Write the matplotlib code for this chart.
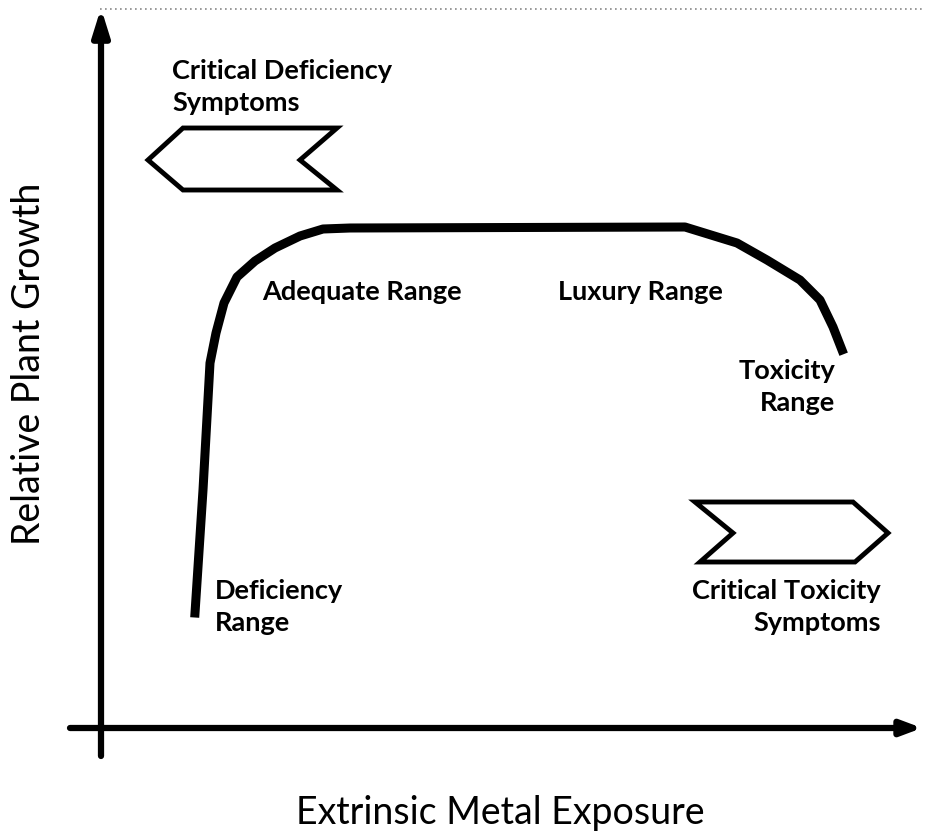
import matplotlib.pyplot as plt
from matplotlib.patches import Polygon

# response curve (exposure, growth) with origin at the axis crossing
exposure = [95, 103, 110, 116, 124, 137, 155, 175, 200, 223, 250, 585, 637, 667, 700, 720, 733, 742]
growth = [115, 238, 365, 395, 425, 451, 467, 480, 492, 499, 500, 501, 485, 468, 448, 428, 401, 378]

# chevron outlines
left_chevron = [(48, 568), (83, 600), (237, 600), (200, 568), (237, 538), (83, 538)]
right_chevron = [(595, 226), (633, 195), (600, 166), (755, 166), (788, 195), (753, 226)]

labels = ["Critical Deficiency\nSymptoms", "Adequate Range", "Luxury Range",
          "Toxicity\nRange", "Deficiency\nRange", "Critical Toxicity\nSymptoms"]
label_x = [72, 162, 458, 735, 115, 781]
label_y = [641, 436, 436, 341, 121, 121]
label_ha = ["left", "left", "left", "right", "left", "right"]

plt.rcParams['font.family'] = ['Lato', 'DejaVu Sans']

fig = plt.figure(figsize=(9.25, 8.39), dpi=100)
ax = fig.add_axes([0, 0, 1, 1])
ax.set_xlim(-100, 825)
ax.set_ylim(-111, 728)
ax.axis('off')

# axes drawn as arrows
ax.annotate('', xy=(1, 720), xytext=(1, -28),
            arrowprops=dict(arrowstyle='-|>,head_length=1.6,head_width=0.5', lw=4.5, color='black',
                            shrinkA=0, shrinkB=0))
ax.annotate('', xy=(822, 0), xytext=(-30, 0),
            arrowprops=dict(arrowstyle='-|>,head_length=1.2,head_width=0.45', lw=4.5, color='black',
                            shrinkA=0, shrinkB=0))

# faint scan artefact line on top
ax.plot([0, 825], [719, 719], color='#888888', lw=1.2, ls=(0, (1, 2)))

ax.plot(exposure, growth, color='black', lw=6.5, solid_joinstyle='round')

ax.add_patch(Polygon(left_chevron, closed=True, fill=False, lw=3.5, edgecolor='black'))
ax.add_patch(Polygon(right_chevron, closed=True, fill=False, lw=3.5, edgecolor='black'))

for t, x, y, ha in zip(labels, label_x, label_y, label_ha):
    ax.text(x, y, t, ha=ha, va='center', fontsize=19.5, fontweight='bold',
            linespacing=1.4, multialignment=ha)

ax.text(-71, 364, 'Relative Plant Growth', rotation=90, ha='center', va='center', fontsize=27)
ax.text(400, -96, 'Extrinsic Metal Exposure', ha='center', va='baseline', fontsize=27)

fig.savefig('out.png', dpi=100)
